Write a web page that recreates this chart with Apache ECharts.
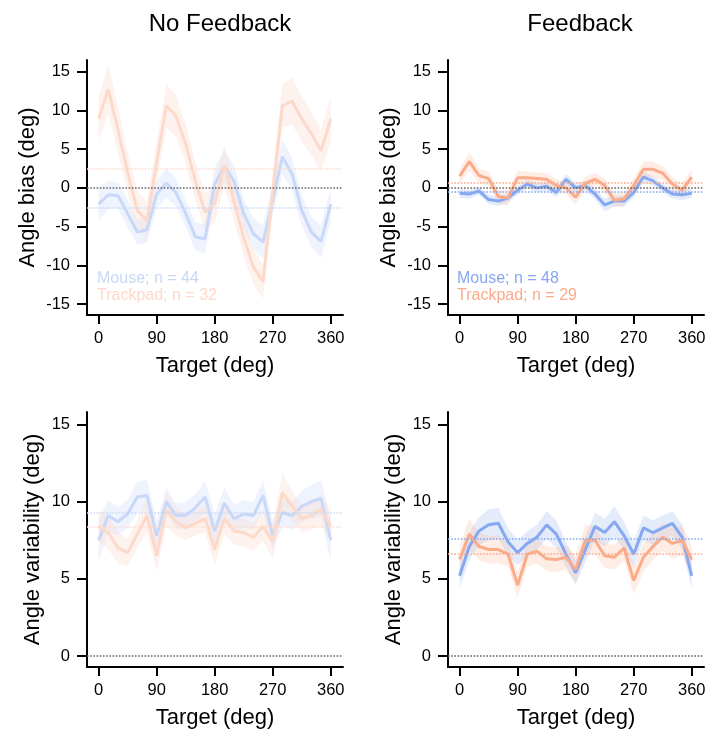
<!DOCTYPE html>
<html>
<head>
<meta charset="utf-8">
<script src="https://cdn.jsdelivr.net/npm/echarts@6/dist/echarts.min.js"></script>
<style>
  html, body { margin: 0; padding: 0; background: #fff; }
  #chart { width: 710px; height: 735px; }
</style>
</head>
<body>
<div id="chart"></div>
<script>
// target directions (deg)
const targets = [0, 15, 30, 45, 60, 75, 90, 105, 120, 135, 150, 165, 180,
                 195, 210, 225, 240, 255, 270, 285, 300, 315, 330, 345, 360];

// angle bias, no feedback
const nfMouseBias = [-2.1, -0.9, -1.0, -3.3, -5.7, -5.4, -0.8, 0.6, -0.6, -3.3, -6.3, -6.6, 0.5,
                     2.7, 0.9, -3.3, -5.9, -7.0, -1.6, 4.0, 1.8, -2.9, -5.7, -6.9, -2.1];
const nfPadBias = [8.9, 12.7, 7.5, 2.0, -2.9, -4.2, 3.3, 10.6, 9.3, 5.7, 0.9, -3.1, -2.1,
                   2.9, -1.8, -6.4, -10.2, -12.1, -0.5, 10.6, 11.2, 8.9, 7.0, 4.8, 8.9];
const nfMouseBiasSd = [2.2, 1.8, 1.7, 1.8, 1.6, 1.7, 1.8, 1.9, 1.8, 1.7, 1.8, 1.9, 2.1,
                       2.2, 2.0, 1.9, 2.0, 2.1, 2.0, 2.2, 2.1, 2.0, 1.9, 2.1, 2.2];
const nfPadBiasSd = [2.8, 3.2, 3.0, 2.7, 2.5, 2.4, 2.6, 2.8, 2.7, 2.6, 2.5, 2.4, 2.5,
                     2.6, 2.5, 2.4, 2.3, 2.2, 2.5, 2.8, 3.0, 2.9, 2.8, 2.7, 2.8];
// angle bias, feedback
const fbMouseBias = [-0.7, -0.8, -0.4, -1.5, -1.7, -1.3, -0.3, 0.5, 0.0, 0.2, -0.6, 1.1, 0.0,
                     0.3, -0.8, -2.2, -1.7, -1.7, -0.6, 1.4, 0.9, 0.0, -0.8, -0.9, -0.7];
const fbPadBias = [1.5, 3.4, 1.6, 1.2, -1.1, -1.3, 1.3, 1.3, 1.2, 1.1, 0.3, 0.0, -1.2,
                   0.6, 1.1, 0.3, -1.6, -1.4, 0.3, 2.4, 2.4, 1.9, 0.5, -0.3, 1.4];
const fbMouseBiasSd = [0.6, 0.6, 0.5, 0.6, 0.6, 0.6, 0.6, 0.6, 0.6, 0.6, 0.6, 0.7, 0.7,
                       0.6, 0.7, 0.8, 0.7, 0.7, 0.6, 0.7, 0.6, 0.6, 0.6, 0.7, 0.6];
const fbPadBiasSd = [1.0, 1.2, 0.9, 0.9, 0.9, 1.0, 0.9, 0.8, 0.8, 0.8, 0.8, 0.8, 0.9,
                     0.8, 0.8, 0.9, 0.9, 0.9, 0.9, 1.0, 1.0, 0.9, 0.9, 0.9, 1.0];

// angle variability, no feedback
const nfMouseVar = [7.5, 9.1, 8.7, 9.2, 10.3, 10.4, 7.8, 10.0, 9.1, 9.1, 9.6, 10.3, 8.1,
                    9.9, 8.9, 9.2, 9.1, 10.4, 7.8, 9.3, 9.1, 9.7, 10.0, 10.2, 7.5];
const nfPadVar = [8.4, 8.0, 7.0, 6.7, 7.9, 9.1, 6.5, 9.5, 8.7, 8.3, 8.6, 8.9, 6.9,
                  8.9, 8.1, 8.0, 7.7, 8.4, 7.4, 10.6, 9.7, 8.9, 9.1, 9.5, 8.4];
const nfMouseVarSd = [1.4, 1.0, 0.9, 0.9, 1.0, 1.0, 1.0, 0.9, 0.8, 0.9, 0.9, 1.0, 1.1,
                      1.0, 0.9, 0.9, 0.9, 1.0, 1.0, 0.9, 0.9, 1.0, 1.1, 1.2, 1.4];
const nfPadVarSd = [1.0, 1.1, 1.0, 0.9, 0.9, 1.1, 1.0, 1.1, 0.9, 0.8, 0.8, 0.9, 1.0,
                    1.0, 0.9, 0.9, 0.9, 1.0, 1.1, 1.2, 1.0, 0.9, 0.9, 1.0, 1.0];
// angle variability, feedback
const fbMouseVar = [5.2, 7.1, 8.1, 8.5, 8.6, 7.4, 6.7, 7.3, 7.7, 8.5, 7.9, 6.6, 5.4,
                    6.9, 8.4, 8.0, 8.7, 7.8, 6.6, 8.3, 8.0, 8.3, 8.6, 7.7, 5.2];
const fbPadVar = [6.25, 7.9, 7.1, 6.9, 6.9, 6.6, 4.6, 6.6, 6.8, 6.3, 6.25, 6.4, 5.6,
                  7.5, 7.5, 6.5, 6.4, 7.0, 4.9, 6.4, 7.1, 7.7, 7.3, 7.5, 6.25];
const fbMouseVarSd = [0.8, 0.9, 0.9, 1.0, 1.0, 0.9, 0.8, 0.8, 0.8, 0.9, 0.9, 0.8, 0.8,
                      0.8, 0.9, 0.9, 1.0, 0.9, 0.8, 0.8, 0.8, 0.8, 0.8, 0.8, 0.8];
const fbPadVarSd = [0.9, 1.0, 0.9, 0.9, 0.9, 0.8, 0.8, 0.8, 0.8, 0.8, 0.8, 0.8, 0.9,
                    1.0, 0.9, 0.8, 0.8, 0.8, 0.9, 0.9, 0.9, 0.9, 1.0, 1.0, 0.9];

// mean lines [mouse, trackpad]
const nfBiasMeans = [-2.5, 2.45];
const fbBiasMeans = [-0.55, 0.6];
const nfVarMeans = [9.27, 8.36];
const fbVarMeans = [7.6, 6.64];

const xTicks = [0, 90, 180, 270, 360];
const biasTicks = [-15, -10, -5, 0, 5, 10, 15];
const varTicks = [0, 5, 10, 15];
const colTitles = ['No Feedback', 'Feedback'];
const legendNF = ['Mouse; n = 44', 'Trackpad; n = 32'];
const legendFB = ['Mouse; n = 48', 'Trackpad; n = 29'];

var FONT = '"Liberation Sans", Arial, sans-serif';
var BLUE = '#86a8f0', ORANGE = '#fbab8a';
var BLUE_F = '#c8d8f8', ORANGE_F = '#fdd9ca';

var grids = [
  { left: 87, top: 60, width: 256, height: 255 },
  { left: 448, top: 60, width: 256, height: 255 },
  { left: 87, top: 412, width: 256, height: 255 },
  { left: 448, top: 412, width: 256, height: 255 }
];

function xAxisFor(gi) {
  return {
    gridIndex: gi, type: 'value', min: -18, max: 379,
    name: 'Target (deg)', nameLocation: 'middle', nameGap: 40,
    nameTextStyle: { fontFamily: FONT, fontSize: 22, color: '#000' },
    axisLine: { onZero: false, lineStyle: { color: '#000', width: 2 } },
    axisTick: { show: true, length: 9, lineStyle: { width: 2, color: '#000' }, customValues: xTicks },
    axisLabel: { fontFamily: FONT, fontSize: 16.5, color: '#000', margin: 15, customValues: xTicks },
    splitLine: { show: false }
  };
}

function yAxisFor(gi, isBias) {
  var ticks = isBias ? biasTicks : varTicks;
  return {
    gridIndex: gi, type: 'value',
    min: isBias ? -16.4 : -0.7, max: isBias ? 16.5 : 15.8,
    name: isBias ? 'Angle bias (deg)' : 'Angle variability (deg)',
    nameLocation: 'middle', nameGap: isBias ? 48 : 43,
    nameTextStyle: { fontFamily: FONT, fontSize: 22, color: '#000' },
    axisLine: { show: true, onZero: false, lineStyle: { color: '#000', width: 2 } },
    axisTick: { show: true, length: 10, lineStyle: { width: 2, color: '#000' }, customValues: ticks },
    axisLabel: { fontFamily: FONT, fontSize: 16.5, color: '#000', margin: 17, customValues: ticks },
    splitLine: { show: false }
  };
}

function bandSeries(gi, mid, sd, fill) {
  return {
    type: 'custom', xAxisIndex: gi, yAxisIndex: gi, z: 1, silent: true,
    data: [[targets[0], mid[0]]], encode: { x: 0, y: 1 },
    renderItem: function (params, api) {
      var up = [], lo = [];
      targets.forEach(function (x, i) {
        up.push(api.coord([x, mid[i] + sd[i]]));
        lo.unshift(api.coord([x, mid[i] - sd[i]]));
      });
      return { type: 'polygon', shape: { points: up.concat(lo) }, style: { fill: fill } };
    }
  };
}

function lineSeries(gi, vals, color, mean, z) {
  return {
    type: 'line', xAxisIndex: gi, yAxisIndex: gi, z: z, silent: true,
    showSymbol: false, data: targets.map(function (x, i) { return [x, vals[i]]; }),
    lineStyle: { color: color, width: 3 }, itemStyle: { color: color },
    markLine: {
      silent: true, symbol: ['none', 'none'], label: { show: false },
      lineStyle: { color: color, type: 'dotted', width: 1.6 },
      data: [{ yAxis: mean }]
    }
  };
}

function zeroSeries(gi) {
  return {
    type: 'line', xAxisIndex: gi, yAxisIndex: gi, z: 2, silent: true, showSymbol: false,
    data: [], markLine: {
      silent: true, symbol: ['none', 'none'], label: { show: false },
      lineStyle: { color: '#666', type: 'dotted', width: 1.6 },
      data: [{ yAxis: 0 }]
    }
  };
}

var panels = [
  { mouse: nfMouseBias, pad: nfPadBias, msd: nfMouseBiasSd, psd: nfPadBiasSd, means: nfBiasMeans, faded: true },
  { mouse: fbMouseBias, pad: fbPadBias, msd: fbMouseBiasSd, psd: fbPadBiasSd, means: fbBiasMeans, faded: false },
  { mouse: nfMouseVar, pad: nfPadVar, msd: nfMouseVarSd, psd: nfPadVarSd, means: nfVarMeans, faded: true },
  { mouse: fbMouseVar, pad: fbPadVar, msd: fbMouseVarSd, psd: fbPadVarSd, means: fbVarMeans, faded: false }
];

var series = [];
panels.forEach(function (p, gi) {
  var bc = p.faded ? BLUE_F : BLUE;
  var oc = p.faded ? ORANGE_F : ORANGE;
  var bFill = p.faded ? 'rgba(200,216,248,0.3)' : 'rgba(134,168,240,0.22)';
  var oFill = p.faded ? 'rgba(253,217,202,0.33)' : 'rgba(251,171,138,0.22)';
  series.push(zeroSeries(gi));
  series.push(bandSeries(gi, p.mouse, p.msd, bFill));
  series.push(bandSeries(gi, p.pad, p.psd, oFill));
  series.push(lineSeries(gi, p.mouse, bc, p.means[0], 3));
  series.push(lineSeries(gi, p.pad, oc, p.means[1], 4));
});

var graphics = [];
[[legendNF, 97, BLUE_F, ORANGE_F], [legendFB, 457, BLUE, ORANGE]].forEach(function (g) {
  graphics.push({ type: 'text', left: g[1], top: 271, style: { text: g[0][0], fill: g[2], font: '16px ' + FONT } });
  graphics.push({ type: 'text', left: g[1], top: 288, style: { text: g[0][1], fill: g[3], font: '16px ' + FONT } });
});

var chart = echarts.init(document.getElementById('chart'), null, { renderer: 'canvas' });
chart.setOption({
  animation: false,
  backgroundColor: '#fff',
  title: [
    { text: colTitles[0], left: 215, top: 7, textAlign: 'center', textStyle: { fontFamily: FONT, fontSize: 24, fontWeight: 'normal', color: '#000' } },
    { text: colTitles[1], left: 575, top: 7, textAlign: 'center', textStyle: { fontFamily: FONT, fontSize: 24, fontWeight: 'normal', color: '#000' } }
  ],
  grid: grids,
  xAxis: [xAxisFor(0), xAxisFor(1), xAxisFor(2), xAxisFor(3)],
  yAxis: [yAxisFor(0, true), yAxisFor(1, true), yAxisFor(2, false), yAxisFor(3, false)],
  series: series,
  graphic: graphics
});
</script>
</body>
</html>
